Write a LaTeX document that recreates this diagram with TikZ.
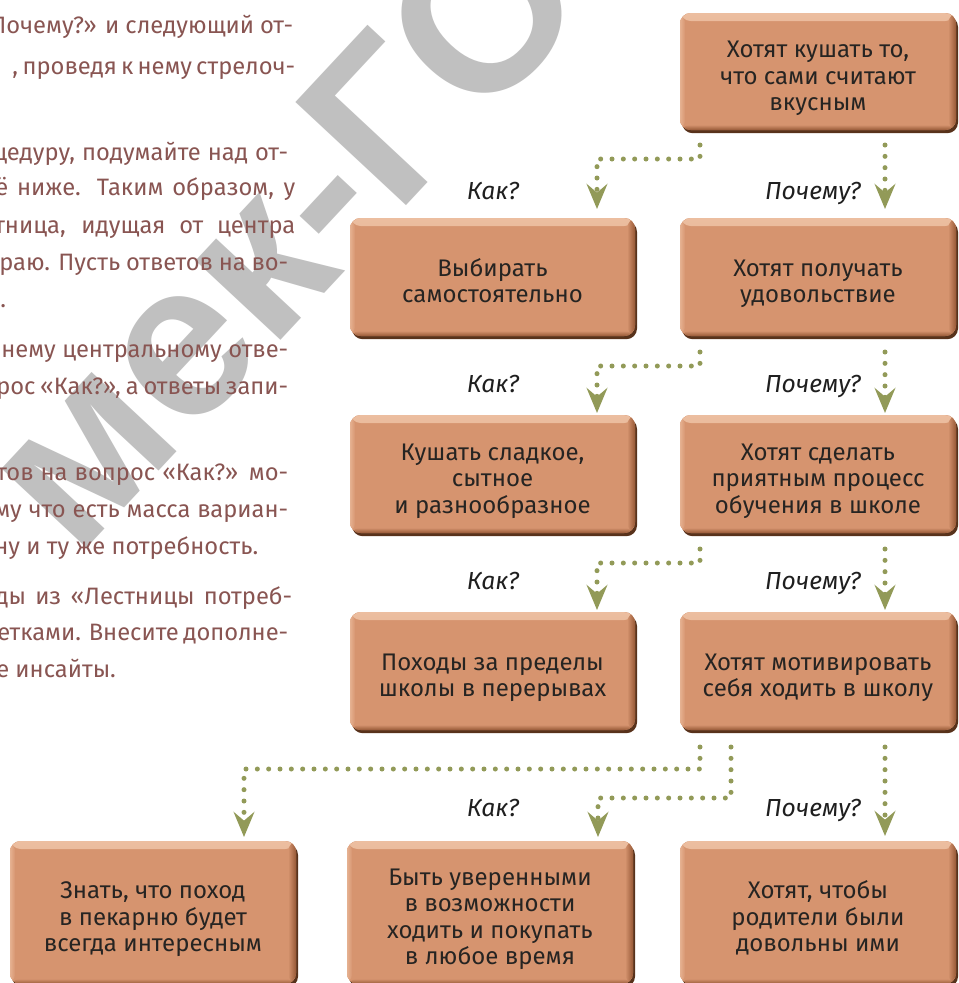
\documentclass[tikz,border=0pt]{standalone}
\usepackage{fontspec}
\setmainfont{Fira Sans}
\newfontfamily\wmfont{Liberation Sans}
\usetikzlibrary{arrows.meta,calc}

\definecolor{boxface}{RGB}{214,148,111}
\definecolor{boxlight}{RGB}{236,190,160}
\definecolor{boxedge}{RGB}{150,88,54}
\definecolor{boxshadow}{RGB}{88,50,27}
\definecolor{boxtext}{RGB}{38,36,34}
\definecolor{olive}{RGB}{146,154,88}
\definecolor{bodytext}{RGB}{137,85,82}
\definecolor{wmgrey}{RGB}{192,192,192}

% struts that fix the vertical extent of the text inside the boxes
\newcommand{\bxa}{\rule{0pt}{24pt}}
\newcommand{\bxb}{\rule[-5pt]{0pt}{5pt}}

\tikzset{
  box/.style={rectangle, rounded corners=8pt, inner sep=0pt, outer sep=0pt,
    minimum height=88.5pt, fill=boxface, text=boxtext, align=center,
    font=\fontsize{18}{19.9}\selectfont,
    preaction={fill=boxshadow, transform canvas={shift={(1.5pt,-2.4pt)}}},
    path picture={
      \shade[top color=boxlight, bottom color=boxface]
        (path picture bounding box.north west) rectangle ([yshift=-6pt]path picture bounding box.north east);
      \shade[left color=boxlight!70!boxface, right color=boxface]
        (path picture bounding box.north west) rectangle ([xshift=4pt]path picture bounding box.south west);
      \shade[left color=boxface, right color=boxedge]
        ([xshift=-6pt]path picture bounding box.north east) rectangle (path picture bounding box.south east);
      \shade[top color=boxface, bottom color=boxedge]
        ([yshift=4pt]path picture bounding box.south west) rectangle (path picture bounding box.south east);
    }},
  lcol/.style={minimum width=213.75pt},
  rcol/.style={minimum width=207pt},
  tall/.style={minimum height=107.25pt},
  conn/.style={draw=olive, line width=3.75pt, line cap=round,
    dash pattern=on 0pt off 8.5pt,
    -{Stealth[length=18.75pt, width=15.5pt, inset=6.5pt, fill=olive]}},
  lbl/.style={anchor=base, inner sep=0pt, text=black!88,
    font=\fontsize{18.5}{20}\selectfont\itshape},
  para/.style={anchor=base west, inner sep=0pt, text=bodytext,
    font=\fontsize{17.8}{28}\selectfont},
  wm/.style={inner sep=0pt, text=wmgrey, rotate=47,
    font=\wmfont\bfseries\fontsize{165}{165}\selectfont}
}

\begin{document}
\begin{tikzpicture}[x=0.75pt, y=-0.75pt]
  \useasboundingbox (0,0) rectangle (959,983);
  \clip (0,0) rectangle (959,983);
  \fill[white] (0,0) rectangle (959,983);

  % grey diagonal lettering behind the page text
  \node[wm, anchor=base west] (wmR) at (396,217) {ГОР};
  \node[wm, anchor=base east] (wmL) at (396,217) {мек-};

  % page text on the left, cut by the page edge
  \node[para] (p1)  at (-10,33)  {\makebox[227.25pt][s]{Почему?» и следующий от-}};
  \node[para] (p2)  at (12,74)   {\makebox[207pt][s]{, проведя к нему стрелоч-}};
  \node[para] (p3)  at (-7,160)  {\makebox[221.25pt][s]{цедуру, подумайте над от-}};
  \node[para] (p4)  at (-5,195)  {\makebox[225pt][s]{ё ниже. Таким образом, у}};
  \node[para] (p5)  at (-6,233)  {\makebox[225.75pt][s]{тница, идущая от центра}};
  \node[para] (p6)  at (-1,270)  {\makebox[216.75pt][s]{раю. Пусть ответов на во-}};
  \node[para] (p7)  at (0,307)   {.};
  \node[para] (p8)  at (1,357)   {\makebox[215.25pt][s]{нему центральному отве-}};
  \node[para] (p9)  at (-4,394)  {\makebox[219pt][s]{рос «Как?», а ответы запи-}};
  \node[para] (p10) at (-4,480)  {\makebox[219pt][s]{тов на вопрос «Как?» мо-}};
  \node[para] (p11) at (-6,517)  {\makebox[220.5pt][s]{му что есть масса вариан-}};
  \node[para] (p12) at (-6,554)  {ну и ту же потребность.};
  \node[para] (p13) at (-5,604)  {\makebox[222.75pt][s]{ды из «Лестницы потреб-}};
  \node[para] (p14) at (-3,640)  {\makebox[218.25pt][s]{етками. Внесите дополне-}};
  \node[para] (p15) at (-4,677)  {е инсайты.};

  % boxes
  \node[box, rcol] (T)  at (818,71.5) [minimum height=87.75pt]
    {\bxa Хотят кушать то,\\что сами считают\\вкусным\bxb};
  \node[box, lcol] (L2) at (492.5,277) {\bxa Выбирать\\самостоятельно\bxb};
  \node[box, rcol] (R2) at (818,277)   {\bxa Хотят получать\\удовольствие\bxb};
  \node[box, lcol] (L3) at (492.5,474) {\bxa Кушать сладкое,\\сытное\\и разнообразное\bxb};
  \node[box, rcol] (R3) at (818,474)   {\bxa Хотят сделать\\приятным процесс\\обучения в школе\bxb};
  \node[box, lcol] (L4) at (492.5,671) {\bxa Походы за пределы\\школы в перерывах\bxb};
  \node[box, rcol] (R4) at (818,671)   {\bxa Хотят мотивировать\\себя ходить в школу\bxb};
  \node[box, tall, minimum width=214.5pt] (B1) at (153,912.5)
    {\bxa Знать, что поход\\в пекарню будет\\всегда интересным\bxb};
  \node[box, tall, minimum width=214.5pt] (B2) at (490,912.5)
    {\bxa Быть уверенными\\в возможности\\ходить и покупать\\в любое время\bxb};
  \node[box, tall, rcol] (B3) at (818,912.5)
    {\bxa Хотят, чтобы\\родители были\\довольны ими\bxb};

  % question labels
  \node[lbl] (k1) at (493,199) {Как?};
  \node[lbl] (w1) at (813,199) {Почему?};
  \node[lbl] (k2) at (493,392) {Как?};
  \node[lbl] (w2) at (813,392) {Почему?};
  \node[lbl] (k3) at (493,589) {Как?};
  \node[lbl] (w3) at (813,589) {Почему?};
  \node[lbl] (k4) at (493,816) {Как?};
  \node[lbl] (w4) at (813,816) {Почему?};

  % dotted connectors
  \draw[conn] ([shift={(20,15)}]T.south west) -- ++(0,14)
    -| ([shift={(-38,-9)}]L2.north east);
  \draw[conn] ([shift={(-71,15)}]T.south east) -- ([shift={(-71,-9)}]R2.north east);

  \draw[conn] ([shift={(20,16)}]R2.south west) -- ++(0,14)
    -| ([shift={(-38,-2)}]L3.north east);
  \draw[conn] ([shift={(-71,16)}]R2.south east) -- ([shift={(-71,-2)}]R3.north east);

  \draw[conn] ([shift={(20,16)}]R3.south west) -- ++(0,14)
    -| ([shift={(-38,-2)}]L4.north east);
  \draw[conn] ([shift={(-71,16)}]R3.south east) -- ([shift={(-71,-2)}]R4.north east);

  \draw[conn] ([shift={(20,17)}]R4.south west) -- ++(0,22)
    -| ([shift={(-52,-4)}]B1.north east);
  \draw[conn] ([shift={(51,17)}]R4.south west) -- ++(0,51)
    -| ([shift={(-35,-4)}]B2.north east);
  \draw[conn] ([shift={(-71,17)}]R4.south east) -- ([shift={(-71,-5)}]B3.north east);
\end{tikzpicture}
\end{document}
